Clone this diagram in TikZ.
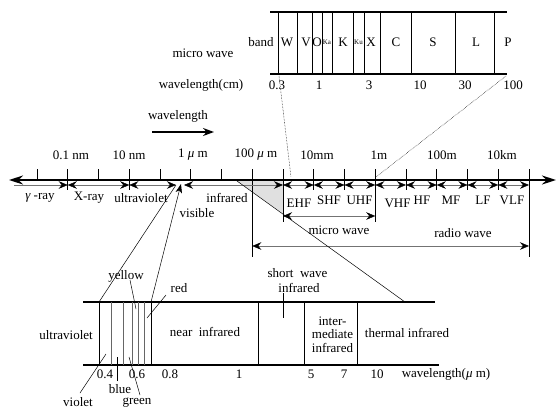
\documentclass[tikz,border=0pt]{standalone}
\usepackage{fontspec}
\setmainfont{Liberation Serif}
\usetikzlibrary{arrows.meta}
\begin{document}
\begin{tikzpicture}[x=1pt,y=-1pt,
  lbl/.style={font=\fontsize{13}{13.5}\selectfont, inner sep=0pt},
  smalllbl/.style={font=\fontsize{7}{8}\selectfont, inner sep=0pt},
  axisline/.style={line width=1.8pt, {Stealth[length=14pt,width=9pt]}-{Stealth[length=14pt,width=9pt]}},
  tickline/.style={line width=0.9pt},
  rangeline/.style={line width=0.45pt, draw=black!55, {Stealth[length=9pt,width=7.5pt,inset=3pt,fill=black,color=black]}-{Stealth[length=9pt,width=7.5pt,inset=3pt,fill=black,color=black]}},
  rangeend/.style={line width=0.45pt, draw=black!55, -{Stealth[length=9pt,width=7.5pt,inset=3pt,fill=black,color=black]}},
  boxh/.style={line width=1.3pt},
  boxv/.style={line width=1pt},
  thinv/.style={line width=0.45pt, draw=black!60},
  pointer/.style={line width=0.5pt},
  dotline/.style={line width=0.5pt, densely dotted},
]
\useasboundingbox (0,0) rectangle (556,410);

% ---------- top micro wave band box ----------
\draw[boxh] (270,12) -- (507,12);
\draw[boxh] (270,74) -- (507,74);
\foreach \xv [count=\i] in {278.7,297.3,312.7,322,332.3,353,364.7,380.7,411.3,455,494.7}
  \draw[boxv] (\xv,12) -- (\xv,74);
\node[lbl] (bW) at (287,42) {W};
\node[lbl] (bV) at (306,42) {V};
\node[lbl] (bO) at (317,42) {O};
\node[smalllbl] (bKa) at (327,42) {Ka};
\node[lbl] (bK) at (343,42) {K};
\node[smalllbl] (bKu) at (358.5,42) {Ku};
\node[lbl] (bX) at (371,42) {X};
\node[lbl] (bC) at (396,42) {C};
\node[lbl] (bS) at (433,42) {S};
\node[lbl] (bL) at (476,42) {L};
\node[lbl] (bP) at (508,42) {P};
\node[lbl] (band) at (261,42) {band};
\node[lbl] (mwtitle) at (203,53) {micro wave};
\node[lbl] (wlcm) at (201,85) {wavelength(cm)};
\node[lbl] (c03) at (277,85) {0.3};
\node[lbl] (c1) at (319,85) {1};
\node[lbl] (c3) at (369,85) {3};
\node[lbl] (c10) at (420,85) {10};
\node[lbl] (c30) at (465,85) {30};
\node[lbl] (c100) at (513,85) {100};
\coordinate (dA1) at (279,76);
\coordinate (dA2) at (291,177);
\coordinate (dB1) at (506,76);
\coordinate (dB2) at (376,177);
\draw[dotline] (dA1) -- (dA2);
\draw[dotline] (dB1) -- (dB2);

% ---------- wavelength arrow ----------
\node[lbl] (wl) at (178,116) {wavelength};
\coordinate (wa1) at (152,132);
\coordinate (wa2) at (214,132);
\draw[line width=1.5pt, -{Stealth[length=11pt,width=8pt]}] (wa1) -- (wa2);

% ---------- gray area and diagonal ----------
\coordinate (gA) at (237,181);
\coordinate (gB) at (283,181);
\coordinate (gC) at (283,213.4);
\fill[black!12] (gA) -- (gB) -- (gC) -- cycle;

% ---------- main axis ----------
\coordinate (axL) at (9,180);
\coordinate (axR) at (556,180);
\draw[axisline] (axL) -- (axR);
\foreach \k/\yb in {0/180,1/190,2/180,3/190,4/180,5/180,6/180,7/257,8/222,9/190,10/190,11/222,12/190,13/190,14/190,15/190,16/257}{
  \coordinate (t\k) at ({37+30.75*\k},169);
  \coordinate (b\k) at ({37+30.75*\k},\yb);
  \coordinate (r\k) at ({37+30.75*\k},185);
  \draw[tickline] (t\k) -- (b\k);
}
\node[lbl] (l01nm) at (71,155) {0.1 nm};
\node[lbl] (l10nm) at (129,155) {10 nm};
\node[lbl] (l1um) at (193,155) {1 {\itshape μ} m};
\node[lbl] (l100um) at (256,155) {100 {\itshape μ} m};
\node[lbl] (l10mm) at (317,155) {10mm};
\node[lbl] (l1m) at (379,155) {1m};
\node[lbl] (l100m) at (442,155) {100m};
\node[lbl] (l10km) at (502,155) {10km};

% range arrows
\coordinate (gstart) at (14,185);
\coordinate (uvend) at (176,185);
\coordinate (irstart) at (184,185);
\draw[rangeend] (gstart) -- (r1);
\draw[rangeline] (r1) -- (r3);
\draw[rangeline] (r3) -- (uvend);
\draw[rangeline] (irstart) -- (r8);
\foreach \a/\b in {8/9,9/10,10/11,11/12,12/13,13/14,14/15,15/16}
  \draw[rangeline] (r\a) -- (r\b);

\node[lbl] (gamma) at (40,198) {{\itshape γ} -ray};
\node[lbl] (xray) at (89,198) {X-ray};
\node[lbl] (uv) at (141,198) {ultraviolet};
\node[lbl] (ir) at (227,198) {infrared};
\node[lbl] (vis) at (197,213) {visible};
\node[lbl] (ehf) at (299,203) {EHF};
\node[lbl] (shf) at (329,200) {SHF};
\node[lbl] (uhf) at (359.5,200) {UHF};
\node[lbl] (vhf) at (397.5,203) {VHF};
\node[lbl] (hf) at (422,200) {HF};
\node[lbl] (mf) at (451,200) {MF};
\node[lbl] (lf) at (483,200) {LF};
\node[lbl] (vlf) at (512,200) {VLF};

% micro wave / radio wave ranges
\coordinate (mw1) at (283,216);
\coordinate (mw2) at (375.25,216);
\draw[rangeline] (mw1) -- (mw2);
\node[lbl] (mwlbl) at (339,230) {micro wave};
\coordinate (rw1) at (252.25,246);
\coordinate (rw2) at (529,246);
\draw[rangeline] (rw1) -- (rw2);
\node[lbl] (rwlbl) at (463,233) {radio wave};

% ---------- bottom box ----------
\draw[boxh] (83,302) -- (435,302);
\draw[boxh] (83,365) -- (439,365);
\foreach \xv in {99,151,258,304,357}
  \draw[boxv] (\xv,302) -- (\xv,365);
\foreach \xv in {111,123,132,138,144}
  \draw[thinv] (\xv,302) -- (\xv,365);

\node[lbl] (n04) at (105,374) {0.4};
\node[lbl] (n06) at (137,374) {0.6};
\node[lbl] (n08) at (170,374) {0.8};
\node[lbl] (n1) at (239,374) {1};
\node[lbl] (n5) at (311,374) {5};
\node[lbl] (n7) at (344,374) {7};
\node[lbl] (n10) at (377,374) {10};
\node[lbl] (nwl) at (446,374) {wavelength({\itshape μ} m)};

\node[lbl, anchor=east] (uvl) at (93,335) {ultraviolet};
\node[lbl] (nir) at (205,332) {near\ \ infrared};
\node[lbl] (swir1) at (297.5,273) {short\ \ wave};
\node[lbl] (swir2) at (299,288) {infrared};
\coordinate (swa) at (283,293);
\coordinate (swb) at (283,318);
\draw[pointer] (swa) -- (swb);
\node[lbl, align=center] (mir) at (332.5,334.5) {inter-\\mediate\\infrared};
\node[lbl] (tir) at (407,333) {thermal infrared};

% colour labels
\node[lbl] (yellow) at (126,276) {yellow};
\coordinate (ya) at (130,280); \coordinate (yb) at (136,309);
\draw[pointer] (ya) -- (yb);
\node[lbl] (red) at (179,288) {red};
\coordinate (rda) at (166,295); \coordinate (rdb) at (147,318);
\draw[pointer] (rda) -- (rdb);
\node[lbl] (violet) at (78,402) {violet};
\coordinate (va) at (80,393); \coordinate (vb) at (106,354);
\draw[pointer] (va) -- (vb);
\node[lbl] (blue) at (120,389) {blue};
\coordinate (bla) at (117,381); \coordinate (blb) at (117,357);
\draw[pointer] (bla) -- (blb);
\node[lbl] (green) at (137,403) {green};
\coordinate (gra) at (140,395); \coordinate (grb) at (129,357);
\draw[pointer] (gra) -- (grb);

% ---------- connecting lines ----------
\coordinate (p1a) at (99,302); \coordinate (p1b) at (176,185);
\draw[pointer] (p1a) -- (p1b);
\coordinate (p2a) at (151,302); \coordinate (p2b) at (181,184);
\draw[pointer, -{Stealth[length=9pt,width=6.5pt,inset=2.5pt]}] (p2a) -- (p2b);
\coordinate (p3a) at (405,302);
\draw[pointer] (p3a) -- (gA);
\end{tikzpicture}
\end{document}
